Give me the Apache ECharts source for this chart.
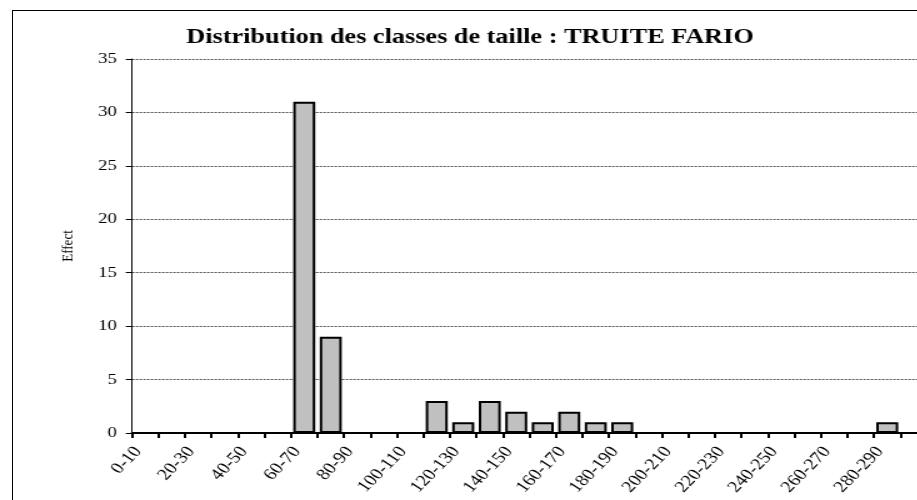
<!DOCTYPE html>
<html lang="fr">
<head>
    <meta charset="UTF-8">
    <title>Distribution des classes de taille</title>
    <style>
        html, body { margin: 0; padding: 0; background: #fff; overflow: hidden; }
        #frame { position: absolute; left: 12px; top: 10px; width: 1000px; height: 600px; border: 1px solid #000; }
        /* le graphique d'origine est étiré horizontalement */
        #main { position: absolute; left: 0; top: 0; width: 752px; height: 520px; transform: scaleX(1.25); transform-origin: 0 0; }
    </style>
</head>
<body>
<div id="frame"></div>
<div id="main"></div>
<script src="https://cdn.jsdelivr.net/npm/echarts@6/dist/echarts.min.js"></script>
<script type="text/javascript">
    // classes de taille (mm)
    var classes = ['0-10', '10-20', '20-30', '30-40', '40-50', '50-60', '60-70', '70-80', '80-90', '90-100',
        '100-110', '110-120', '120-130', '130-140', '140-150', '150-160', '160-170', '170-180', '180-190', '190-200',
        '200-210', '210-220', '220-230', '230-240', '240-250', '250-260', '260-270', '270-280', '280-290', '290-300'];
    // effectifs
    var effectifs = [0, 0, 0, 0, 0, 0, 31, 9, 0, 0,
        0, 3, 1, 3, 2, 1, 2, 1, 1, 0,
        0, 0, 0, 0, 0, 0, 0, 0, 1, 0];
    var yMin = 0, yMax = 35, yStep = 5;

    var police = '"Liberation Serif", "Times New Roman", serif';
    var myChart = echarts.init(document.getElementById('main'));
    var option = {
        animation: false,
        title: {
            text: 'Distribution des classes de taille : TRUITE FARIO',
            left: 'center',
            top: 22,
            textStyle: { fontFamily: police, fontSize: 21, fontWeight: 'bold', color: '#000' }
        },
        grid: { left: 105.6, top: 59, width: 636, height: 374, containLabel: false },
        xAxis: {
            type: 'category',
            data: classes,
            axisLine: { lineStyle: { color: '#000', width: 2 } },
            axisTick: { show: true, length: 5, interval: 0, lineStyle: { color: '#000', width: 2 } },
            axisLabel: {
                interval: 1,
                rotate: 51,
                margin: 9,
                formatter: function (v) { return '{c|' + v + '}'; },
                rich: { c: { padding: [0, 9, 0, 0], fontFamily: police, fontSize: 16, color: '#000' } },
                fontFamily: police,
                fontSize: 16,
                color: '#000'
            }
        },
        yAxis: {
            type: 'value',
            min: yMin,
            max: yMax,
            interval: yStep,
            name: 'Effect',
            nameLocation: 'middle',
            nameGap: 45,
            nameTextStyle: { fontFamily: police, fontSize: 13, color: '#000' },
            axisLine: { show: true, lineStyle: { color: '#000', width: 1 } },
            axisTick: { show: true, length: 5, lineStyle: { color: '#000', width: 1 } },
            axisLabel: { margin: 12, fontFamily: police, fontSize: 15, color: '#000' },
            splitLine: { lineStyle: { color: '#555', type: [2, 1], width: 1 } }
        },
        series: [{
            type: 'bar',
            data: effectifs,
            barCategoryGap: '17%',
            itemStyle: { color: '#c0c0c0', borderColor: '#000', borderWidth: 2 }
        }]
    };
    option && myChart.setOption(option);
</script>
</body>
</html>
